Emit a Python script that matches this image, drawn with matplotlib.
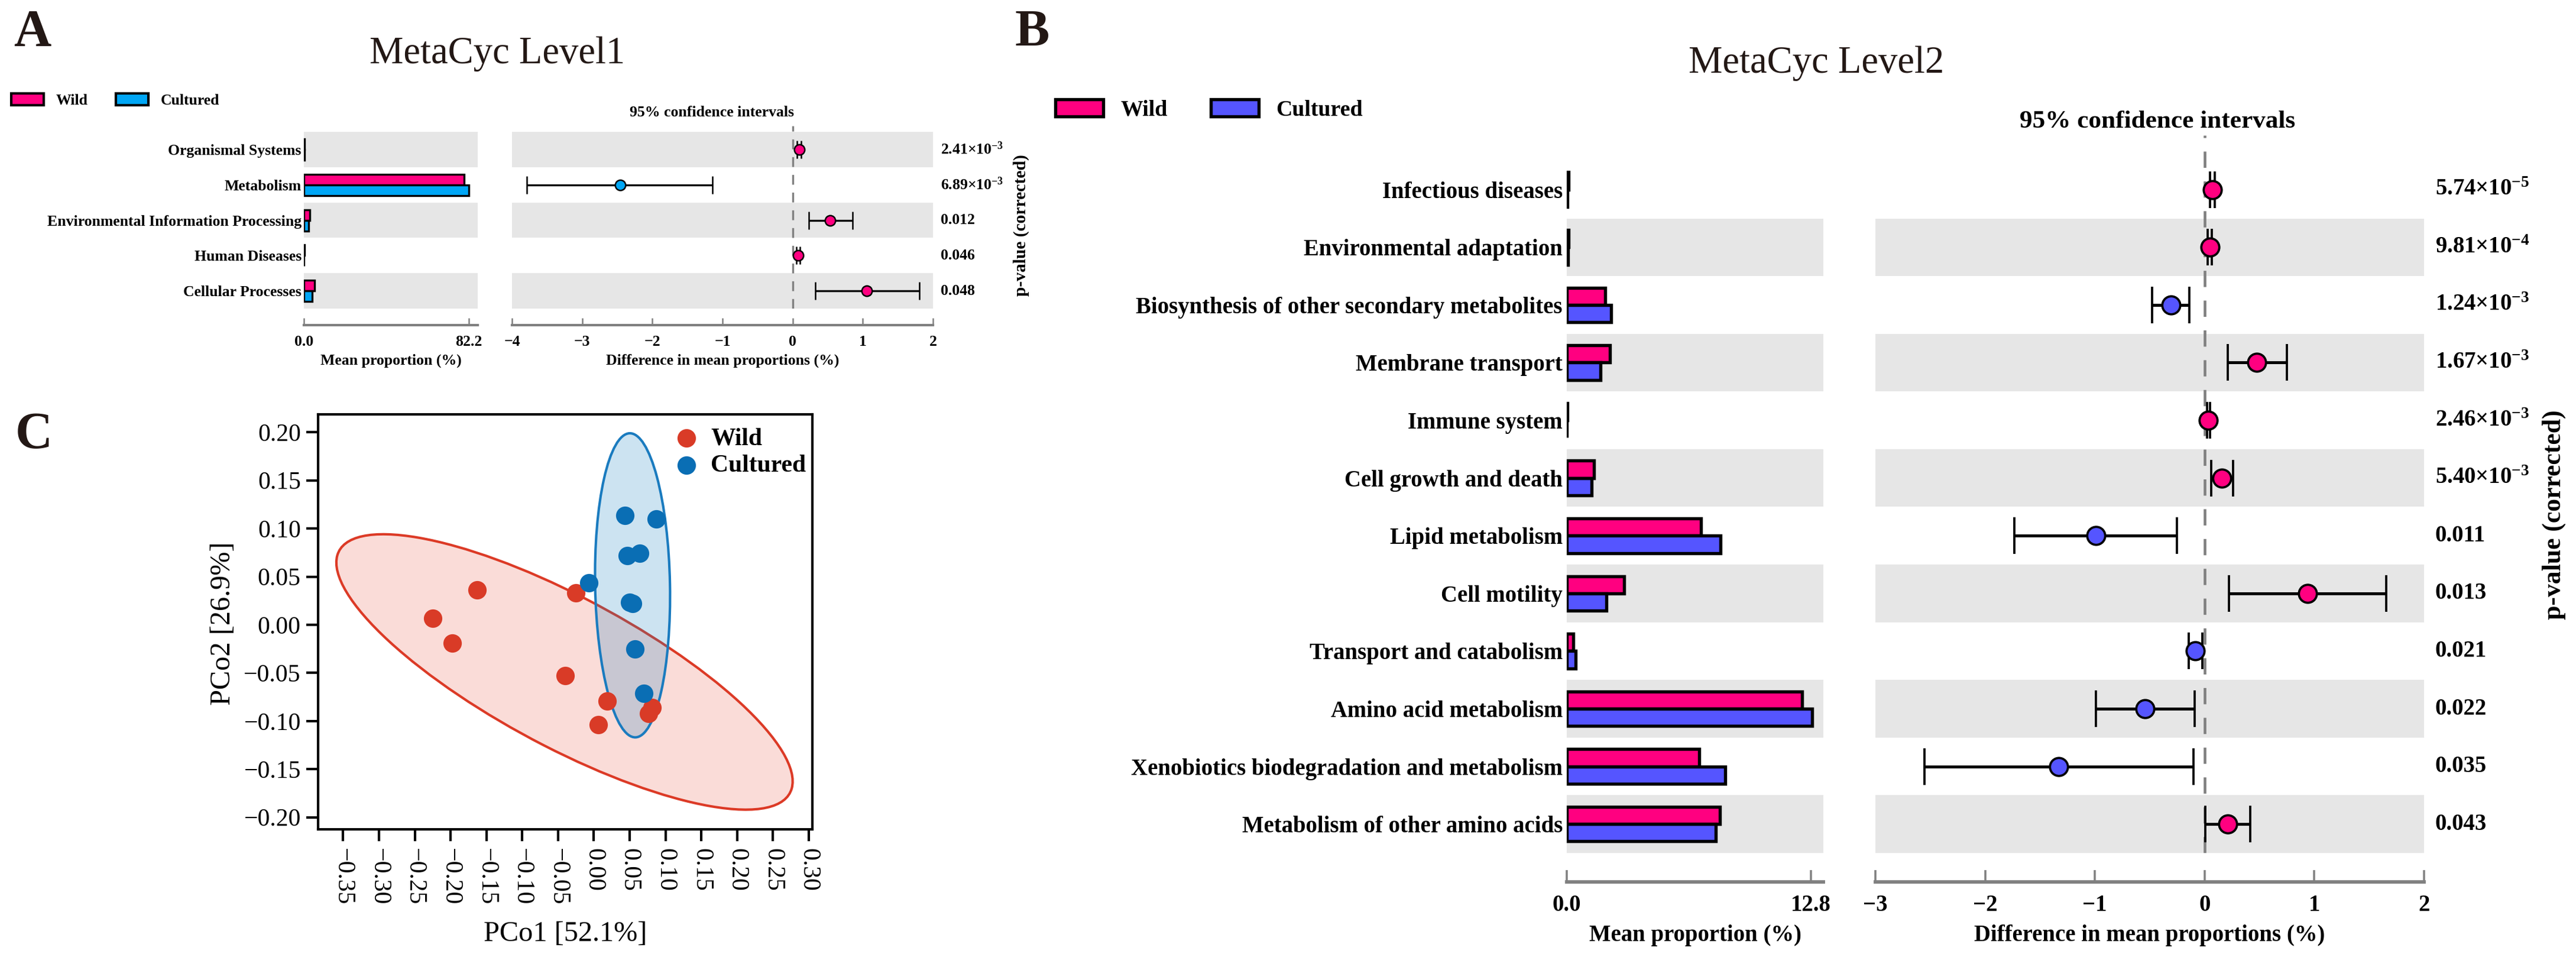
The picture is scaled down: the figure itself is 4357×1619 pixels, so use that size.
import numpy as np
import matplotlib
matplotlib.use('Agg')
import matplotlib.pyplot as plt
from matplotlib.patches import Ellipse, Patch
from matplotlib.transforms import blended_transform_factory
from matplotlib.colors import to_rgba

plt.rcParams['font.family'] = ['Liberation Serif', 'DejaVu Serif']
plt.rcParams['mathtext.default'] = 'regular'
plt.rcParams['axes.unicode_minus'] = True

W, H, DPI = 4357, 1619, 300

# ---------------- Panel A data (MetaCyc Level1) ----------------
a_categories = ['Organismal Systems', 'Metabolism', 'Environmental Information Processing',
                'Human Diseases', 'Cellular Processes']
a_wild = [0.25, 79.9, 2.9, 0.2, 5.3]
a_cultured = [0.15, 82.2, 2.4, 0.12, 4.2]
a_diff = [0.092, -2.46, 0.537, 0.077, 1.06]
a_ci_low = [0.06, -3.79, 0.227, 0.05, 0.32]
a_ci_high = [0.12, -1.14, 0.85, 0.10, 1.81]
a_pvalues = [2.41e-3, 6.89e-3, 0.012, 0.046, 0.048]
a_bar_ticks = [0.0, 82.2]
a_bar_xmax = 86.6
a_diff_ticks = [-4, -3, -2, -1, 0, 1, 2]

# ---------------- Panel B data (MetaCyc Level2) ----------------
b_categories = ['Infectious diseases', 'Environmental adaptation',
                'Biosynthesis of other secondary metabolites', 'Membrane transport',
                'Immune system', 'Cell growth and death', 'Lipid metabolism', 'Cell motility',
                'Transport and catabolism', 'Amino acid metabolism',
                'Xenobiotics biodegradation and metabolism', 'Metabolism of other amino acids']
b_wild = [0.1, 0.1, 2.02, 2.26, 0.04, 1.43, 7.05, 3.02, 0.35, 12.33, 6.95, 8.03]
b_cultured = [0.03, 0.05, 2.33, 1.77, 0.01, 1.29, 8.06, 2.08, 0.45, 12.86, 8.30, 7.81]
b_diff = [0.072, 0.048, -0.308, 0.477, 0.036, 0.157, -0.99, 0.936, -0.085, -0.543, -1.328, 0.211]
b_ci_low = [0.05, 0.03, -0.477, 0.211, 0.02, 0.06, -1.733, 0.223, -0.145, -0.99, -2.554, 0.006]
b_ci_high = [0.09, 0.065, -0.139, 0.749, 0.05, 0.26, -0.254, 1.655, -0.018, -0.09, -0.103, 0.417]
b_pvalues = [5.74e-5, 9.81e-4, 1.24e-3, 1.67e-3, 2.46e-3, 5.40e-3,
             0.011, 0.013, 0.021, 0.022, 0.035, 0.043]
b_bar_ticks = [0.0, 12.8]
b_bar_xmax = 13.45
b_diff_ticks = [-3, -2, -1, 0, 1, 2]

# ---------------- Panel C data (PCoA) ----------------
wild_pco1 = [-0.163, -0.225, -0.198, -0.025, -0.040, 0.019, 0.006, 0.076, 0.081]
wild_pco2 = [0.036, 0.0065, -0.019, 0.033, -0.053, -0.079, -0.104, -0.092, -0.086]
cult_pco1 = [0.043, 0.087, 0.047, 0.064, -0.007, 0.050, 0.054, 0.057, 0.070]
cult_pco2 = [0.1135, 0.1097, 0.072, 0.0744, 0.0436, 0.0235, 0.022, -0.0254, -0.071]
# confidence ellipses: center x, center y, width, height, angle(deg)
wild_ellipse = [-0.041, -0.049, 0.679, 0.163, -20.9]
cult_ellipse = [0.054, 0.041, 0.316, 0.1045, 91.5]
c_xticks = [-0.35, -0.30, -0.25, -0.20, -0.15, -0.10, -0.05, 0.00, 0.05, 0.10, 0.15, 0.20, 0.25, 0.30]
c_yticks = [-0.20, -0.15, -0.10, -0.05, 0.00, 0.05, 0.10, 0.15, 0.20]
c_xlim = (-0.385, 0.305)
c_ylim = (-0.2125, 0.2186)

WILD_COLOR = '#FF0080'
A_CULT_COLOR = '#00A6F5'
B_CULT_COLOR = '#5555FF'
BAND = '#E6E6E6'
DARK = '#231815'

fig = plt.figure(figsize=(W / DPI, H / DPI), dpi=DPI)


def fx(px):
    return px / W


def fy(py):
    return 1 - py / H


def rect(x0, x1, ytop, ybot):
    return [x0 / W, 1 - ybot / H, (x1 - x0) / W, (ybot - ytop) / H]


def fmt_p(p):
    if p < 0.01:
        m, e = f'{p:.2e}'.split('e')
        return f'{m}×10$^{{{int(e)}}}$'
    return f'{p:.3f}'


def minus(s):
    return s.replace('-', '\u2212')


def bar_panel(r_bar, r_diff, cats, wild, cult, diff, lo, hi, pvals, bar_ticks, bar_xmax,
              diff_ticks, top_margin, cult_color, fs, edge_lw, ms, mew, elw, cap,
              spine_lw, spine_out, tick_len, tick_pad, ylab_pad, dash_lw, dash, p_x):
    n = len(cats)
    pos = np.arange(n)[::-1]
    axb = fig.add_axes(r_bar)
    axd = fig.add_axes(r_diff)
    bh = 0.3
    for ax in (axb, axd):
        ax.set_ylim(-0.5, n - 0.5 + top_margin)
        for y in pos:
            if y % 2 == 0:
                ax.axhspan(y - 0.5, y + 0.5, color=BAND, lw=0, zorder=0)
        for s in ('left', 'top', 'right'):
            ax.spines[s].set_visible(False)
        ax.spines['bottom'].set_position(('outward', spine_out))
        ax.spines['bottom'].set_color('#808080')
        ax.spines['bottom'].set_linewidth(spine_lw)
        ax.tick_params(axis='x', direction='in', length=tick_len, width=spine_lw * 0.6,
                       color='#808080', pad=tick_pad, labelsize=fs)
        ax.set_facecolor('none')
    # bars
    axb.barh(pos + bh / 2, wild, height=bh, color=WILD_COLOR, edgecolor='black',
             linewidth=edge_lw, zorder=2)
    axb.barh(pos - bh / 2, cult, height=bh, color=cult_color, edgecolor='black',
             linewidth=edge_lw, zorder=2)
    axb.set_xlim(0, bar_xmax)
    axb.set_xticks(bar_ticks, [f'{v:.1f}' for v in bar_ticks], fontweight='bold')
    axb.set_yticks(pos, cats, fontweight='bold', fontsize=fs)
    axb.tick_params(axis='y', length=0, pad=ylab_pad)
    # differences
    axd.axvline(0, color='#808080', lw=dash_lw, linestyle=(0, dash), zorder=1)
    for y, d, l, h in zip(pos, diff, lo, hi):
        c = WILD_COLOR if d > 0 else cult_color
        axd.errorbar([d], [y], xerr=[[d - l], [h - d]], fmt='o', mfc=c, mec='black', mew=mew,
                     ms=ms, ecolor='black', elinewidth=elw, capsize=cap, capthick=elw * 0.8,
                     zorder=3)
    axd.set_xlim(diff_ticks[0], diff_ticks[-1])
    axd.set_xticks(diff_ticks, [minus(f'{v:g}') for v in diff_ticks], fontweight='bold')
    axd.set_yticks([])
    tr = blended_transform_factory(axd.transAxes, axd.transData)
    for y, p in zip(pos, pvals):
        axd.text(p_x, y, fmt_p(p), transform=tr, ha='left', va='center',
                 fontsize=fs, fontweight='bold')
    return axb, axd


# ---------------- Panel A ----------------
bar_panel(rect(514, 808, 213, 522), rect(866, 1578, 213, 522), a_categories, a_wild, a_cultured,
          a_diff, a_ci_low, a_ci_high, a_pvalues, a_bar_ticks, a_bar_xmax, a_diff_ticks,
          0.17, A_CULT_COLOR, fs=6.2, edge_lw=0.8, ms=4.2, mew=0.6, elw=0.8, cap=3.7,
          spine_lw=1.0, spine_out=6.7, tick_len=2.9, tick_pad=4.0, ylab_pad=1.0,
          dash_lw=0.8, dash=(5, 4), p_x=(1591 - 866) / (1578 - 866))

fig.text(fx(23), fy(77), 'A', fontsize=21, fontweight='bold', color=DARK, ha='left', va='baseline')
fig.text(fx(841), fy(107), 'MetaCyc Level1', fontsize=15.5, color=DARK, ha='center', va='baseline')
fig.text(fx(1204), fy(197), '95% confidence intervals', fontsize=6.2, fontweight='bold',
         ha='center', va='baseline')
fig.text(fx(661), fy(617), 'Mean proportion (%)', fontsize=6.2, fontweight='bold',
         ha='center', va='baseline')
fig.text(fx(1222), fy(617), 'Difference in mean proportions (%)', fontsize=6.2, fontweight='bold',
         ha='center', va='baseline')
fig.text(fx(1727), fy(381), 'p-value (corrected)', fontsize=7.1, fontweight='bold',
         rotation=90, ha='center', va='center')
fig.legend(handles=[Patch(fc=WILD_COLOR, ec='black', lw=1.0), Patch(fc=A_CULT_COLOR, ec='black', lw=1.0)],
           labels=['Wild', 'Cultured'], loc='center left', bbox_to_anchor=(fx(19), fy(170)),
           ncol=2, frameon=False, handlelength=2.13, handleheight=0.78, handletextpad=0.78,
           columnspacing=1.86, borderpad=0, borderaxespad=0,
           prop=dict(family=['Liberation Serif', 'DejaVu Serif'], weight='bold', size=6.2))

# ---------------- Panel B ----------------
bar_panel(rect(2650, 3084, 229, 1443), rect(3172, 4100, 229, 1443), b_categories, b_wild,
          b_cultured, b_diff, b_ci_low, b_ci_high, b_pvalues, b_bar_ticks, b_bar_xmax,
          b_diff_ticks, 0.44, B_CULT_COLOR, fs=9.3, edge_lw=1.3, ms=7.3, mew=0.9, elw=1.2,
          cap=7.4, spine_lw=1.4, spine_out=11.8, tick_len=4.7, tick_pad=5.0, ylab_pad=1.7,
          dash_lw=1.1, dash=(6, 5), p_x=(4119 - 3172) / (4100 - 3172))

fig.text(fx(1717), fy(77), 'B', fontsize=21, fontweight='bold', color=DARK, ha='left', va='baseline')
fig.text(fx(3072), fy(123), 'MetaCyc Level2', fontsize=15.5, color=DARK, ha='center', va='baseline')
fig.text(fx(3649), fy(216), '95% confidence intervals', fontsize=10.4, fontweight='bold',
         ha='center', va='baseline')
fig.text(fx(2867), fy(1592), 'Mean proportion (%)', fontsize=9.3, fontweight='bold',
         ha='center', va='baseline')
fig.text(fx(3636), fy(1592), 'Difference in mean proportions (%)', fontsize=9.3, fontweight='bold',
         ha='center', va='baseline')
fig.text(fx(4320), fy(871), 'p-value (corrected)', fontsize=10.5, fontweight='bold',
         rotation=90, ha='center', va='center')
fig.legend(handles=[Patch(fc=WILD_COLOR, ec='black', lw=1.3), Patch(fc=B_CULT_COLOR, ec='black', lw=1.3)],
           labels=['Wild', 'Cultured'], loc='center left', bbox_to_anchor=(fx(1785), fy(186)),
           ncol=2, frameon=False, handlelength=2.13, handleheight=0.79, handletextpad=0.79,
           columnspacing=1.92, borderpad=0, borderaxespad=0,
           prop=dict(family=['Liberation Serif', 'DejaVu Serif'], weight='bold', size=9.1))

# ---------------- Panel C ----------------
axc = fig.add_axes(rect(538, 1374, 701, 1403))
RED = '#D93B27'
BLUE = '#0A6EB4'
RED_E = '#DC3A26'
BLUE_E = '#1A7BBF'
e1 = Ellipse((wild_ellipse[0], wild_ellipse[1]), wild_ellipse[2], wild_ellipse[3],
             angle=wild_ellipse[4], facecolor=to_rgba('#E8402A', 0.18), edgecolor=RED_E,
             lw=1.0, zorder=1)
e2 = Ellipse((cult_ellipse[0], cult_ellipse[1]), cult_ellipse[2], cult_ellipse[3],
             angle=cult_ellipse[4], facecolor=to_rgba('#1A80C0', 0.22), edgecolor=BLUE_E,
             lw=1.0, zorder=2)
axc.add_patch(e1)
axc.add_patch(e2)
axc.scatter(wild_pco1, wild_pco2, s=56, color=RED, linewidths=0, zorder=3, label='Wild')
axc.scatter(cult_pco1, cult_pco2, s=56, color=BLUE, linewidths=0, zorder=3, label='Cultured')
axc.set_xlim(*c_xlim)
axc.set_ylim(*c_ylim)
axc.set_xticks(c_xticks, [minus(f'{v:.2f}') for v in c_xticks])
axc.set_yticks(c_yticks, [minus(f'{v:.2f}') for v in c_yticks])
axc.tick_params(axis='both', direction='out', length=4.8, width=1.0, labelsize=10)
axc.tick_params(axis='y', pad=2.2)
axc.tick_params(axis='x', pad=2.9, labelrotation=270)
for s in axc.spines.values():
    s.set_linewidth(1.0)
axc.legend(loc='center left', bbox_to_anchor=(fx(1140), fy(765)), bbox_transform=fig.transFigure,
           handlelength=1.0, handletextpad=0.5, labelspacing=0.18, frameon=False, borderpad=0,
           borderaxespad=0, scatterpoints=1,
           prop=dict(family=['Liberation Serif', 'DejaVu Serif'], weight='bold', size=10))
fig.text(fx(26), fy(758), 'C', fontsize=21, fontweight='bold', color=DARK, ha='left', va='baseline')
fig.text(fx(956), fy(1592), 'PCo1 [52.1%]', fontsize=11.6, ha='center', va='baseline')
fig.text(fx(377), fy(1055), 'PCo2 [26.9%]', fontsize=11.6, rotation=90, ha='center', va='center')

fig.savefig('out.png', dpi=DPI)
